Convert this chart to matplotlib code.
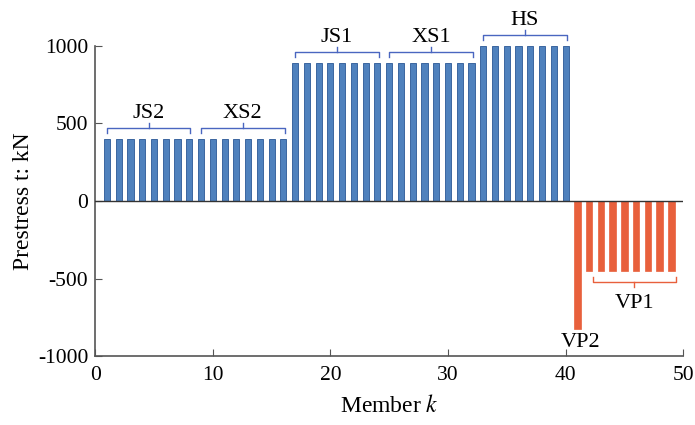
import matplotlib.pyplot as plt
import numpy as np

plt.rcParams['font.family'] = ['Liberation Serif', 'DejaVu Serif']
plt.rcParams['mathtext.fontset'] = 'stix'
plt.rcParams['axes.unicode_minus'] = False

# member groups: name, first member, last member, prestress (kN)
group_names = ['JS2', 'XS2', 'JS1', 'XS1', 'HS', 'VP2', 'VP1']
group_start = [1, 9, 17, 25, 33, 41, 42]
group_end = [8, 16, 24, 32, 40, 41, 49]
group_force = [400, 400, 888, 888, 1000, -825, -450]

members = []
forces = []
for s, e, f in zip(group_start, group_end, group_force):
    for k in range(s, e + 1):
        members.append(k)
        forces.append(f)
members = np.array(members)
forces = np.array(forces)

blue = '#4F81BD'
blue_edge = '#3B66A0'
red = '#E8603C'
brace_blue = '#4A66C0'

fig = plt.figure(figsize=(6.95, 4.25), dpi=100)
ax = fig.add_axes([0.137, 0.162, 0.846, 0.730])

pos = forces > 0
ax.bar(members[pos], forces[pos], width=0.52, color=blue,
       edgecolor=blue_edge, linewidth=0.7, zorder=2)
ax.bar(members[~pos], forces[~pos], width=0.57, color=red,
       edgecolor=red, linewidth=0.5, zorder=2)

ax.axhline(0, color='#333333', linewidth=1.0, zorder=3)


def brace(x0, x1, y, color, up=True):
    # horizontal bar with end hooks and a middle nib
    d = 32 if up else -32
    xm = (x0 + x1) / 2
    ax.plot([x0, x0, x1, x1], [y - d, y, y, y - d], color=color,
            linewidth=1.0, clip_on=False)
    ax.plot([xm, xm], [y, y + d], color=color, linewidth=1.0, clip_on=False)


for name, s, e, f in zip(group_names, group_start, group_end, group_force):
    if name == 'VP2':
        ax.text(s + 0.3, -915, name, ha='center', va='center', fontsize=16)
    elif name == 'VP1':
        brace(s + 0.3, e + 0.4, -520, red, up=False)
        ax.text((s + e) / 2 + 0.35, -658, name, ha='center', va='center',
                fontsize=16)
    else:
        brace(s, e + 0.1, f + 70, brace_blue)
        ax.text((s + e) / 2 + 0.05, f + 165, name, ha='center', va='center',
                fontsize=16)

ax.set_xlim(0, 50)
ax.set_ylim(-1000, 1000)
ax.set_xticks([0, 10, 20, 30, 40, 50])
ax.set_yticks([-1000, -500, 0, 500, 1000])
ax.tick_params(direction='in', length=5, labelsize=15.5, colors='#555555',
               labelcolor='black')
ax.tick_params(axis='x', pad=7)
ax.tick_params(axis='y', pad=5)
ax.spines['top'].set_visible(False)
ax.spines['right'].set_visible(False)
for sp in ['left', 'bottom']:
    ax.spines[sp].set_color('#555555')
    ax.spines[sp].set_linewidth(1.2)

ax.set_xlabel('Member $k$', fontsize=17, labelpad=7)
ax.set_ylabel('Prestress t: kN', fontsize=17, labelpad=3)

fig.savefig('out.png', dpi=100)
